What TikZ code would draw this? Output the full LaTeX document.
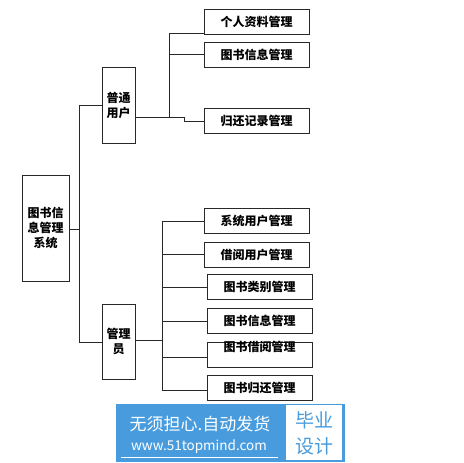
\documentclass[tikz,border=0pt]{standalone}
\usepackage{fontspec}
\setmainfont{Noto Sans CJK SC}
\newfontfamily\cjk{Noto Sans CJK SC}
\definecolor{wmblue}{RGB}{72,156,222}
\definecolor{linec}{RGB}{40,40,40}
\begin{document}
\begin{tikzpicture}[x=1pt,y=-1pt,
  box/.style={draw=linec,line width=0.9pt,fill=white,inner sep=0pt,font=\cjk\bfseries\fontsize{12}{15}\selectfont,align=center},
  leaf/.style={box,minimum width=105pt,minimum height=25pt},
  conn/.style={draw=linec,line width=0.9pt}]
\useasboundingbox (0,0) rectangle (463,463);
\fill[white] (0,0) rectangle (463,463);
% root and middle
\node[box,minimum width=47pt,minimum height=106pt] (root) at (45.5,228) {图书信\\息管理\\系统};
\node[box,minimum width=33pt,minimum height=76pt] (pt) at (118.5,105) {普通\\用户};
\node[box,minimum width=33pt,minimum height=75pt] (adm) at (118.5,341.5) {管理\\员};
% upper leaves
\node[leaf] (u1) at (256.5,21.5) {个人资料管理};
\node[leaf] (u2) at (256.5,54.5) {图书信息管理};
\node[leaf] (u3) at (256.5,121) {归还记录管理};
% lower leaves
\node[leaf] (l1) at (256.5,220.5) {系统用户管理};
\node[leaf] (l2) at (256.5,254.5) {借阅用户管理};
\node[leaf] (l3) at (259.5,286.5) {图书类别管理};
\node[leaf] (l4) at (259.5,320.5) {图书信息管理};
\node[leaf] (l5) at (259.5,354.5) {};
\node[font=\cjk\bfseries\fontsize{12}{15}\selectfont,inner sep=0pt] (l5t) at (259.5,347) {图书借阅管理};
\node[leaf] (l6) at (259.5,387.5) {图书归还管理};
% coordinates
\coordinate (rb) at (79,229);
\coordinate (ptin) at (79,105);
\coordinate (admin) at (79,342);
\coordinate (ptout) at (135,117);
\coordinate (ub) at (169,117);
\coordinate (ubtop) at (169,33);
\coordinate (ustep) at (184,117);
\coordinate (admout) at (135,340);
\coordinate (lb) at (162,340);
% main connectors
\draw[conn] (root.east |- rb) -- (rb);
\draw[conn] (pt.west |- ptin) -- (ptin) -- (admin) -- (adm.west |- admin);
% upper bus
\draw[conn] (ptout) -- (ustep) -- ++(0,4) -- (u3.west);
\draw[conn] (ub) -- (ubtop) -- (u1.west |- ubtop);
\draw[conn] (169,54.5) -- (u2.west);
% lower bus
\draw[conn] (admout) -- (lb);
\draw[conn] (162,221) -- (162,390);
\draw[conn] (162,221) -- (l1.west |- 0,221);
\draw[conn] (162,254) -- (l2.west |- 0,254);
\draw[conn] (162,287) -- (l3.west |- 0,287);
\draw[conn] (162,321) -- (l4.west |- 0,321);
\draw[conn] (162,357) -- (l5.west |- 0,357);
\draw[conn] (162,390) -- (l6.west |- 0,390);
% watermark
\fill[wmblue] (116,404) rectangle (345,462);
\fill[white] (286,405) rectangle (342,460);
\node[text=white,font=\cjk\fontsize{17}{20}\selectfont,inner sep=0pt] (wm1) at (200,424) {无须担心.自动发货};
\node[text=white,font=\cjk\fontsize{13.5}{16}\selectfont,inner sep=0pt] (wm2) at (199,447) {www.51topmind.com};
\draw[white,line width=0.8pt] (121,457) -- (278,457);
\node[text=wmblue,font=\cjk\fontsize{19}{22}\selectfont,inner sep=0pt] (wm3) at (314,420) {毕业};
\node[text=wmblue,font=\cjk\fontsize{19}{22}\selectfont,inner sep=0pt] (wm4) at (314,446) {设计};
\end{tikzpicture}
\end{document}
